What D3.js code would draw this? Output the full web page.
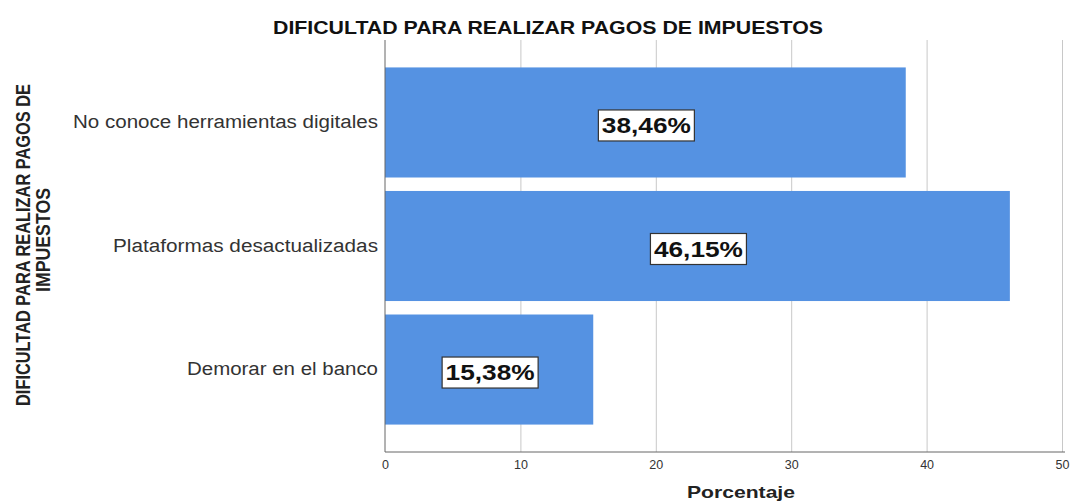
<html>
<head>
    <script src="https://d3js.org/d3.v7.min.js"></script>
    <style>
        body { margin: 0; background: #fff; }
        text { font-family: "Liberation Sans", Arial, sans-serif; }
        .gridlines line { stroke: #c8c8c8; }
        .gridlines .domain { stroke: none; }
    </style>
</head>
<body>
    <svg id="chartArea" width="1084" height="501"></svg>
    <script>
        // data
        const categories = ["No conoce herramientas digitales", "Plataformas desactualizadas", "Demorar en el banco"];
        const percents = [38.46, 46.15, 15.38];
        const valueLabels = ["38,46%", "46,15%", "15,38%"];
        const xTicks = [0, 10, 20, 30, 40, 50];

        const svg = d3.select("#chartArea");
        const margins = { top: 40, left: 385, right: 22, bottom: 49 };
        const width = 1084, height = 501;

        const xScale = d3.scaleLinear()
            .domain([0, 50])
            .range([margins.left, 1062]);

        const yScale = d3.scaleBand()
            .domain(categories)
            .range([margins.top, height - margins.bottom])
            .paddingInner(0.109)
            .paddingOuter(0.222);

        // vertical gridlines
        svg.append("g")
            .attr("class", "gridlines")
            .attr("transform", `translate(0,${height - margins.bottom})`)
            .call(d3.axisBottom(xScale).tickValues(xTicks.slice(1)).tickFormat("")
                .tickSize(-(height - margins.bottom - margins.top)).tickSizeOuter(0));

        // bars
        svg.selectAll(".bar")
            .data(categories)
            .join("rect")
            .attr("class", "bar")
            .attr("x", xScale(0))
            .attr("y", d => yScale(d))
            .attr("width", (d, i) => xScale(percents[i]) - xScale(0))
            .attr("height", yScale.bandwidth())
            .attr("fill", "#5592e2");

        // axes
        const bottomAxis = svg.append("g")
            .attr("transform", `translate(0,${height - margins.bottom})`)
            .call(d3.axisBottom(xScale).tickValues(xTicks).tickSize(0).tickPadding(8).tickSizeOuter(0));
        bottomAxis.select(".domain").attr("stroke", "#666").attr("d", `M${xScale(0)},0H1065`);
        bottomAxis.selectAll("text").attr("font-size", 12.5).attr("fill", "#333")
            .style("font-family", "'Liberation Sans', Arial, sans-serif");

        // the picture is stretched sideways, so texts are widened to the measured widths
        const labelWidths = [305, 265, 191];
        const leftAxis = svg.append("g")
            .attr("transform", `translate(${margins.left},0)`)
            .call(d3.axisLeft(yScale).tickSize(0).tickPadding(7).tickSizeOuter(0));
        leftAxis.select(".domain").attr("stroke", "#666")
            .attr("d", `M0,${margins.top}V${height - margins.bottom}`);
        leftAxis.selectAll("text").attr("font-size", 18).attr("fill", "#333")
            .attr("textLength", (d, i) => labelWidths[i])
            .attr("lengthAdjust", "spacingAndGlyphs")
            .style("font-family", "'Liberation Sans', Arial, sans-serif");

        // value labels in boxes
        const labels = svg.selectAll(".vlabel")
            .data(categories)
            .join("g")
            .attr("class", "vlabel")
            .attr("transform", (d, i) => `translate(${(xScale(0) + xScale(percents[i])) / 2 + 1},${yScale(d) + yScale.bandwidth() / 2 + 3})`);
        labels.append("rect")
            .attr("x", -48).attr("y", -15.5)
            .attr("width", 96).attr("height", 31)
            .attr("fill", "#fff").attr("stroke", "#333").attr("stroke-width", 1.2);
        labels.append("text")
            .attr("text-anchor", "middle")
            .attr("dy", "0.36em")
            .attr("font-size", 22)
            .attr("font-weight", "bold")
            .attr("fill", "#111")
            .attr("textLength", 89)
            .attr("lengthAdjust", "spacingAndGlyphs")
            .text((d, i) => valueLabels[i]);

        // title
        svg.append("text")
            .attr("x", 548).attr("y", 34)
            .attr("text-anchor", "middle")
            .attr("font-size", 18.5).attr("font-weight", "bold").attr("fill", "#111")
            .attr("textLength", 550).attr("lengthAdjust", "spacingAndGlyphs")
            .text("DIFICULTAD PARA REALIZAR PAGOS DE IMPUESTOS");

        // axis titles
        svg.append("text")
            .attr("x", 741).attr("y", 498)
            .attr("text-anchor", "middle")
            .attr("font-size", 17).attr("font-weight", "bold").attr("fill", "#222")
            .attr("textLength", 108).attr("lengthAdjust", "spacingAndGlyphs")
            .text("Porcentaje");

        const yTitleLines = [
            { text: "DIFICULTAD PARA REALIZAR PAGOS DE", x: 30, y: 245, len: 322 },
            { text: "IMPUESTOS", x: 50, y: 240, len: 104 }
        ];
        svg.selectAll(".ytitle")
            .data(yTitleLines)
            .join("text")
            .attr("class", "ytitle")
            .attr("transform", d => `translate(${d.x},${d.y}) rotate(-90) scale(1,1.25)`)
            .attr("text-anchor", "middle")
            .attr("font-size", 16).attr("font-weight", "bold").attr("fill", "#222")
            .attr("textLength", d => d.len).attr("lengthAdjust", "spacingAndGlyphs")
            .text(d => d.text);
    </script>
</body>
</html>
